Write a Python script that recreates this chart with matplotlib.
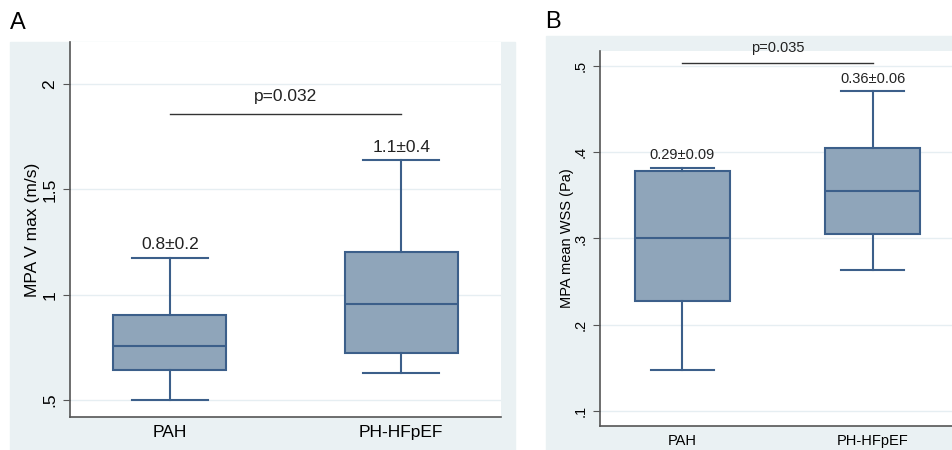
import matplotlib.pyplot as plt
from matplotlib.patches import Rectangle

plt.rcParams['font.family'] = ['Liberation Sans', 'DejaVu Sans']

# groups
groups = ["PAH", "PH-HFpEF"]

# panel A: MPA V max (m/s) box statistics
vmax_whislo = [0.50, 0.629]
vmax_q1 = [0.643, 0.724]
vmax_med = [0.757, 0.957]
vmax_q3 = [0.905, 1.205]
vmax_whishi = [1.176, 1.638]
vmax_labels = ["0.8\u00b10.2", "1.1\u00b10.4"]
vmax_p = "p=0.032"
vmax_ticks = [0.5, 1, 1.5, 2]
vmax_ticklabels = [".5", "1", "1.5", "2"]

# panel B: MPA mean WSS (Pa) box statistics
wss_whislo = [0.148, 0.264]
wss_q1 = [0.227, 0.305]
wss_med = [0.301, 0.355]
wss_q3 = [0.378, 0.405]
wss_whishi = [0.382, 0.471]
wss_labels = ["0.29\u00b10.09", "0.36\u00b10.06"]
wss_p = "p=0.035"
wss_ticks = [0.1, 0.2, 0.3, 0.4, 0.5]
wss_ticklabels = [".1", ".2", ".3", ".4", ".5"]

BG = "#eaf1f3"
FILL = "#8fa5ba"
EDGE = "#3c5f8a"
GRID = "#e6eef2"
AXIS = "#555555"

fig = plt.figure(figsize=(9.52, 4.5), dpi=100)

# outer graph regions (Stata style), drawn behind the axes
fig.add_artist(Rectangle((10 / 952, 0), 505 / 952, 408 / 450,
                         transform=fig.transFigure, color=BG, zorder=-10))
fig.add_artist(Rectangle((546 / 952, 0), 406 / 952, 414 / 450,
                         transform=fig.transFigure, color=BG, zorder=-10))

axA = fig.add_axes([70 / 952, 33 / 450, 431 / 952, 375 / 450])
axB = fig.add_axes([600 / 952, 24 / 450, 355 / 952, 375 / 450])


def draw_panel(ax, whislo, q1, med, q3, whishi, labels, ptext, bar_y, ptext_y,
               ticks, ticklabels, ylim, ylabel, fs, width, lpad):
    stats = []
    for i in range(len(groups)):
        stats.append(dict(whislo=whislo[i], q1=q1[i], med=med[i], q3=q3[i],
                          whishi=whishi[i], fliers=[]))
    ax.bxp(stats, positions=[1, 2], widths=width, patch_artist=True,
           showfliers=False, capwidths=0.33,
           boxprops=dict(facecolor=FILL, edgecolor=EDGE, linewidth=1.5),
           medianprops=dict(color=EDGE, linewidth=1.5),
           whiskerprops=dict(color=EDGE, linewidth=1.5),
           capprops=dict(color=EDGE, linewidth=1.5))
    ax.set_facecolor('white')
    ax.set_xlim(0.569, 2.431)
    ax.set_ylim(*ylim)
    ax.set_xticks([1, 2])
    ax.set_xticklabels(groups, fontsize=fs)
    ax.tick_params(axis='x', length=0, pad=6)
    ax.set_yticks(ticks)
    ax.set_yticklabels(ticklabels, rotation=90, va='center', fontsize=fs)
    ax.tick_params(axis='y', length=5, color=AXIS, pad=4)
    ax.grid(axis='y', color=GRID, linewidth=1)
    ax.set_axisbelow(True)
    for s in ['top', 'right']:
        ax.spines[s].set_visible(False)
    for s in ['left', 'bottom']:
        ax.spines[s].set_color(AXIS)
        ax.spines[s].set_linewidth(1.2)
    ax.set_ylabel(ylabel, fontsize=fs, labelpad=lpad)
    for i, lab in enumerate(labels):
        ax.annotate(lab, (i + 1, whishi[i]), xytext=(0, 6),
                    textcoords='offset points', ha='center', va='baseline',
                    fontsize=fs, color='#222222')
    ax.plot([1, 2], [bar_y, bar_y], color='#333333', linewidth=1,
            clip_on=False)
    ax.text(1.5, ptext_y, ptext, ha='center', va='center', fontsize=fs,
            color='#222222', clip_on=False)


draw_panel(axA, vmax_whislo, vmax_q1, vmax_med, vmax_q3, vmax_whishi,
           vmax_labels, vmax_p, 1.857, 1.943, vmax_ticks, vmax_ticklabels,
           (0.419, 2.2), "MPA V max (m/s)", 12.5, 0.49, 2)
draw_panel(axB, wss_whislo, wss_q1, wss_med, wss_q3, wss_whishi,
           wss_labels, wss_p, 0.5035, 0.521, wss_ticks, wss_ticklabels,
           (0.0826, 0.5174), "MPA mean WSS (Pa)", 10.5, 0.497, 0)

fig.text(10 / 952, 1 - 23 / 450, "A", fontsize=17, va='center', ha='left')
fig.text(545 / 952, 1 - 22 / 450, "B", fontsize=17, va='center', ha='left')

fig.savefig("out.png", dpi=100)
